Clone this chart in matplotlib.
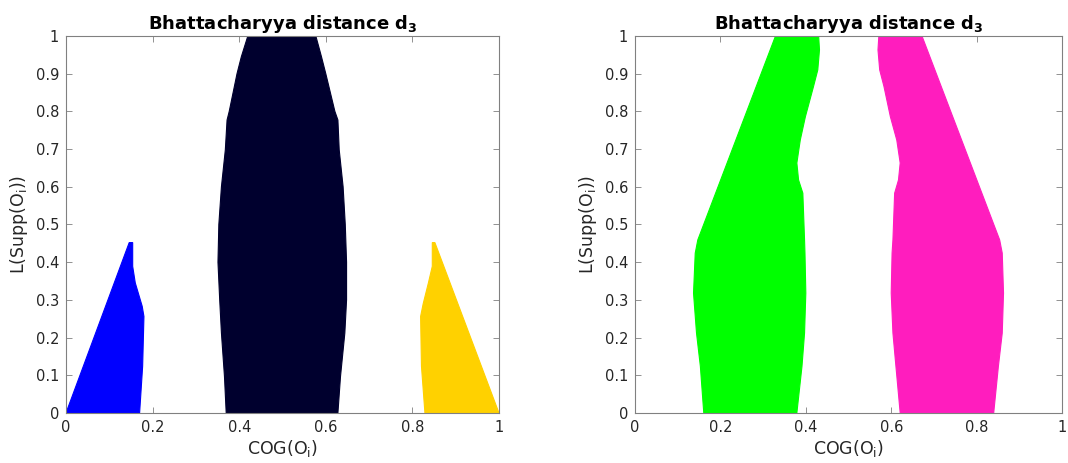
import matplotlib.pyplot as plt

# Outline of each region (COG x, L(Supp) y), listed around the boundary
# Left panel
blue_x = [0.0, 0.146, 0.154, 0.154, 0.160, 0.176, 0.180, 0.177, 0.170]
blue_y = [0.0, 0.452, 0.452, 0.389, 0.345, 0.283, 0.256, 0.124, 0.0]

navy_x = [0.370, 0.366, 0.359, 0.355, 0.351, 0.353, 0.359, 0.368, 0.372, 0.377, 0.395, 0.405, 0.420,
          0.577, 0.590, 0.600, 0.621, 0.628, 0.631, 0.640, 0.645, 0.648, 0.648, 0.644, 0.634, 0.628]
navy_y = [0.0, 0.097, 0.212, 0.3, 0.4, 0.5, 0.6, 0.698, 0.777, 0.8, 0.9, 0.945, 1.0,
          1.0, 0.945, 0.9, 0.8, 0.777, 0.698, 0.6, 0.5, 0.4, 0.3, 0.212, 0.097, 0.0]

yellow_x = [0.829, 0.821, 0.819, 0.825, 0.837, 0.846, 0.846, 0.852, 1.0]
yellow_y = [0.0, 0.124, 0.256, 0.290, 0.345, 0.389, 0.452, 0.452, 0.0]

# Right panel
green_x = [0.161, 0.153, 0.144, 0.137, 0.141, 0.147, 0.329,
           0.430, 0.432, 0.428, 0.418, 0.399, 0.387, 0.379, 0.383, 0.393, 0.397, 0.398, 0.400, 0.397, 0.391, 0.379]
green_y = [0.0, 0.124, 0.212, 0.318, 0.424, 0.459, 1.0,
           1.0, 0.963, 0.91, 0.866, 0.786, 0.724, 0.663, 0.618, 0.583, 0.459, 0.424, 0.318, 0.212, 0.124, 0.0]

magenta_x = [0.621, 0.611, 0.604, 0.600, 0.602, 0.604, 0.608, 0.617, 0.621, 0.613, 0.598, 0.583, 0.573, 0.569, 0.571,
             0.672, 0.854, 0.860, 0.863, 0.860, 0.851, 0.840]
magenta_y = [0.0, 0.124, 0.212, 0.318, 0.424, 0.459, 0.583, 0.618, 0.663, 0.724, 0.786, 0.866, 0.91, 0.963, 1.0,
             1.0, 0.459, 0.424, 0.318, 0.212, 0.124, 0.0]

xticks = [0, 0.2, 0.4, 0.6, 0.8, 1]
xticklabels = ['0', '0.2', '0.4', '0.6', '0.8', '1']
yticks = [0, 0.1, 0.2, 0.3, 0.4, 0.5, 0.6, 0.7, 0.8, 0.9, 1]
yticklabels = ['0', '0.1', '0.2', '0.3', '0.4', '0.5', '0.6', '0.7', '0.8', '0.9', '1']


def style(ax):
    ax.set_xlim(0, 1)
    ax.set_ylim(0, 1)
    ax.set_xticks(xticks)
    ax.set_xticklabels(xticklabels)
    ax.set_yticks(yticks)
    ax.set_yticklabels(yticklabels)
    ax.tick_params(direction='in', top=True, right=True, length=4, width=0.6,
                   colors='#808080', labelcolor='#262626', labelsize=10.5, pad=5)
    for s in ax.spines.values():
        s.set_color('#808080')
        s.set_linewidth(0.8)
    ax.set_xlabel(r'COG(O$_\mathregular{i}$)', fontsize=12.5, color='#262626', labelpad=2)
    ax.set_ylabel(r'L(Supp(O$_\mathregular{i}$))', fontsize=12.5, color='#262626', labelpad=4)
    ax.set_title(r'Bhattacharyya distance d$_\mathbf{3}$', fontsize=13, fontweight='bold', pad=5)


fig = plt.figure(figsize=(10.68, 4.63), dpi=100)
ax1 = fig.add_axes([0.0618, 0.108, 0.4054, 0.8143])
ax2 = fig.add_axes([0.5946, 0.108, 0.3998, 0.8143])

ax1.fill(blue_x, blue_y, color='#0000FF', lw=0.8, zorder=2)
ax1.fill(navy_x, navy_y, color='#00002E', lw=0.8, zorder=2)
ax1.fill(yellow_x, yellow_y, color='#FFD100', lw=0.8, zorder=2)
style(ax1)

ax2.fill(green_x, green_y, color='#00FF00', lw=0.8, zorder=2)
ax2.fill(magenta_x, magenta_y, color='#FF1DBE', lw=0.8, zorder=2)
style(ax2)

fig.savefig('out.png', dpi=100)
